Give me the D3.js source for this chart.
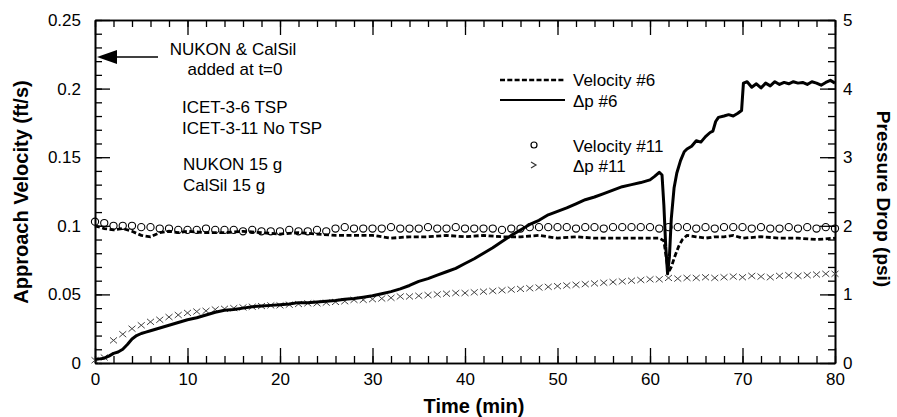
<!DOCTYPE html>
<html>
<head>
<meta charset="utf-8">
<script src="https://cdn.jsdelivr.net/npm/d3@7"></script>
<style>
  body { margin: 0; background: #fff; }
  text { font-family: "Liberation Sans", Arial, sans-serif; fill: #000; }
</style>
</head>
<body>
<script>
var width = 897, height = 417;

// tick labels
var timeTicks = [0, 10, 20, 30, 40, 50, 60, 70, 80];
var velTicks = [0, 0.05, 0.1, 0.15, 0.2, 0.25];
var psiTicks = [0, 1, 2, 3, 4, 5];

// Delta p #6 (psi), solid line
var dp6Time = [0, 0.5, 1, 1.5, 2, 2.5, 3, 3.5, 4, 4.5, 5, 5.5, 6, 7, 8, 9, 10, 11, 12, 13, 14, 15,
  16, 17, 18, 19, 20, 21, 22, 23, 24, 25, 26, 27, 28, 29, 30, 31, 32, 33, 34, 35, 36, 37, 38, 39,
  40, 41, 42, 43, 44, 45, 46, 47, 48, 49, 50, 51, 52, 53, 54, 55, 56, 57, 58, 59, 60, 60.5, 61,
  61.3, 61.5, 61.7, 61.9, 62.1, 62.3, 62.6, 62.9, 63.3, 63.7, 64, 64.5, 65, 65.5, 66, 66.5, 66.8,
  67.1, 67.4, 68, 68.5, 69, 69.5, 69.9, 70.1, 70.5, 71, 71.5, 72, 72.5, 73, 73.5, 74, 74.5, 75,
  75.5, 76, 76.5, 77, 77.5, 78, 78.5, 79, 79.5, 80];
var dp6 = [0.05, 0.06, 0.07, 0.10, 0.14, 0.16, 0.20, 0.27, 0.35, 0.40, 0.43, 0.45, 0.47, 0.51,
  0.55, 0.59, 0.63, 0.66, 0.70, 0.74, 0.77, 0.78, 0.80, 0.82, 0.83, 0.84, 0.85, 0.86, 0.88, 0.88,
  0.89, 0.90, 0.91, 0.93, 0.94, 0.96, 0.98, 1.01, 1.04, 1.08, 1.13, 1.19, 1.23, 1.28, 1.33, 1.38,
  1.45, 1.52, 1.60, 1.68, 1.77, 1.86, 1.94, 2.02, 2.08, 2.16, 2.21, 2.26, 2.32, 2.38, 2.42, 2.47,
  2.52, 2.57, 2.60, 2.63, 2.67, 2.72, 2.78, 2.74, 2.30, 1.70, 1.30, 1.55, 2.10, 2.55, 2.77, 2.95,
  3.08, 3.12, 3.16, 3.24, 3.22, 3.30, 3.36, 3.38, 3.52, 3.58, 3.60, 3.62, 3.60, 3.64, 3.68, 4.08,
  4.10, 4.02, 4.07, 4.01, 4.08, 4.04, 4.10, 4.06, 4.09, 4.07, 4.10, 4.08, 4.09, 4.06, 4.10, 4.08,
  4.05, 4.09, 4.12, 4.08];

// Velocity #6 (ft/s), dashed line
var vel6Time = [0, 1, 2, 3, 4, 5, 6, 7, 8, 9, 10, 12, 14, 16, 18, 20, 22, 24, 26, 28, 30, 32, 34,
  36, 38, 40, 42, 44, 46, 48, 50, 52, 54, 56, 58, 60, 61, 61.5, 61.8, 62, 62.3, 62.7, 63.1, 63.5,
  64, 65, 66, 67, 68, 69, 70, 72, 74, 76, 78, 80];
var vel6 = [0.100, 0.098, 0.097, 0.098, 0.096, 0.093, 0.092, 0.095, 0.096, 0.095, 0.096, 0.095,
  0.095, 0.096, 0.095, 0.094, 0.095, 0.094, 0.093, 0.093, 0.093, 0.091, 0.092, 0.092, 0.093,
  0.092, 0.093, 0.092, 0.092, 0.093, 0.091, 0.092, 0.091, 0.091, 0.091, 0.091, 0.091, 0.089,
  0.075, 0.066, 0.070, 0.078, 0.085, 0.090, 0.093, 0.092, 0.091, 0.092, 0.092, 0.093, 0.091,
  0.092, 0.091, 0.091, 0.090, 0.091];

// Velocity #11 (ft/s), circles, one per minute
var vel11Time = d3.range(0, 81);
var vel11 = [0.103, 0.102, 0.100, 0.100, 0.100, 0.099, 0.099, 0.098, 0.098, 0.097, 0.097, 0.097,
  0.098, 0.097, 0.097, 0.097, 0.096, 0.097, 0.096, 0.096, 0.096, 0.097, 0.096, 0.096, 0.097,
  0.096, 0.098, 0.099, 0.098, 0.098, 0.098, 0.098, 0.099, 0.098, 0.098, 0.098, 0.099, 0.098,
  0.098, 0.099, 0.098, 0.098, 0.098, 0.098, 0.097, 0.098, 0.098, 0.099, 0.099, 0.099, 0.099,
  0.099, 0.098, 0.099, 0.099, 0.098, 0.099, 0.099, 0.099, 0.099, 0.099, 0.098, 0.099, 0.099,
  0.099, 0.098, 0.099, 0.098, 0.099, 0.099, 0.099, 0.098, 0.099, 0.098, 0.098, 0.099, 0.098,
  0.099, 0.098, 0.099, 0.098];

// Delta p #11 (psi), x markers, one per minute
var dp11Time = d3.range(0, 81);
var dp11 = [0.04, 0.08, 0.33, 0.42, 0.50, 0.55, 0.60, 0.63, 0.67, 0.70, 0.73, 0.75, 0.76, 0.78,
  0.79, 0.80, 0.81, 0.82, 0.83, 0.84, 0.84, 0.85, 0.86, 0.87, 0.87, 0.88, 0.89, 0.90, 0.92, 0.92,
  0.93, 0.94, 0.95, 0.97, 0.97, 0.98, 0.99, 1.00, 1.01, 1.02, 1.02, 1.03, 1.04, 1.05, 1.06, 1.07,
  1.08, 1.09, 1.10, 1.11, 1.12, 1.13, 1.14, 1.15, 1.16, 1.17, 1.18, 1.19, 1.20, 1.21, 1.22, 1.22,
  1.24, 1.23, 1.24, 1.24, 1.25, 1.24, 1.25, 1.26, 1.25, 1.27, 1.26, 1.25, 1.27, 1.28, 1.27, 1.28,
  1.29, 1.30, 1.30];

var plotLeft = 95, plotRight = 835, plotTop = 20, plotBottom = 363;

var svg = d3.select("body").append("svg")
    .attr("width", width)
    .attr("height", height);

var x = d3.scaleLinear().domain([0, 80]).range([plotLeft, plotRight]);
var yL = d3.scaleLinear().domain([0, 0.25]).range([plotBottom, plotTop]);
var yR = d3.scaleLinear().domain([0, 5]).range([plotBottom, plotTop]);

// axes: major ticks with labels + minor ticks, all pointing inwards
function styleAxis(g) {
  g.selectAll("path.domain").attr("stroke", "#000").attr("stroke-width", 1.6);
  g.selectAll(".tick line").attr("stroke", "#000").attr("stroke-width", 1.3);
  g.selectAll(".tick text").style("font-size", "17px").attr("fill", "#000");
}

svg.append("g").attr("transform", "translate(0," + plotBottom + ")")
  .call(d3.axisBottom(x).tickValues(timeTicks).tickSize(-15).tickSizeOuter(0).tickPadding(10).tickFormat(d => d))
  .call(styleAxis);
svg.append("g").attr("transform", "translate(0," + plotBottom + ")")
  .call(d3.axisBottom(x).tickValues(d3.range(0, 81, 2)).tickSize(-7).tickSizeOuter(0).tickFormat(""))
  .call(styleAxis);
svg.append("g").attr("transform", "translate(0," + plotTop + ")")
  .call(d3.axisTop(x).tickValues(timeTicks).tickSize(-15).tickSizeOuter(0).tickFormat(""))
  .call(styleAxis);
svg.append("g").attr("transform", "translate(0," + plotTop + ")")
  .call(d3.axisTop(x).tickValues(d3.range(0, 81, 2)).tickSize(-7).tickSizeOuter(0).tickFormat(""))
  .call(styleAxis);

svg.append("g").attr("transform", "translate(" + plotLeft + ",0)")
  .call(d3.axisLeft(yL).tickValues(velTicks).tickSize(-15).tickSizeOuter(0).tickPadding(14).tickFormat(d => d))
  .call(styleAxis);
svg.append("g").attr("transform", "translate(" + plotLeft + ",0)")
  .call(d3.axisLeft(yL).tickValues(d3.range(0, 26).map(d => d / 100)).tickSize(-7).tickSizeOuter(0).tickFormat(""))
  .call(styleAxis);

svg.append("g").attr("transform", "translate(" + plotRight + ",0)")
  .call(d3.axisRight(yR).tickValues(psiTicks).tickSize(-15).tickSizeOuter(0).tickPadding(8).tickFormat(d => d))
  .call(styleAxis);
svg.append("g").attr("transform", "translate(" + plotRight + ",0)")
  .call(d3.axisRight(yR).tickValues(d3.range(0, 26).map(d => d / 5)).tickSize(-7).tickSizeOuter(0).tickFormat(""))
  .call(styleAxis);

// axis titles
svg.append("text")
  .attr("transform", "translate(28,192) rotate(-90)")
  .attr("text-anchor", "middle")
  .style("font-size", "20px").style("font-weight", "bold")
  .text("Approach Velocity (ft/s)");
svg.append("text")
  .attr("transform", "translate(877,199) rotate(90)")
  .attr("text-anchor", "middle")
  .style("font-size", "19px").style("font-weight", "bold")
  .text("Pressure Drop (psi)");
svg.append("text")
  .attr("x", 474).attr("y", 413)
  .attr("text-anchor", "middle")
  .style("font-size", "20px").style("font-weight", "bold")
  .text("Time (min)");

// data
var plot = svg.append("g");

var lineL = d3.line().x(d => x(d[0])).y(d => yL(d[1]));
var lineR = d3.line().x(d => x(d[0])).y(d => yR(d[1]));

plot.append("path")
  .datum(vel6Time.map((t, i) => [t, vel6[i]]))
  .attr("d", lineL)
  .attr("fill", "none").attr("stroke", "#000")
  .attr("stroke-width", 2.8).attr("stroke-dasharray", "5,2.5");

plot.selectAll("circle.v11")
  .data(vel11Time.map((t, i) => [t, vel11[i]]))
  .enter().append("circle")
  .attr("class", "v11")
  .attr("cx", d => x(d[0])).attr("cy", d => yL(d[1]))
  .attr("r", 3.6)
  .attr("fill", "none").attr("stroke", "#000").attr("stroke-width", 1.1);

plot.selectAll("path.p11")
  .data(dp11Time.map((t, i) => [t, dp11[i]]))
  .enter().append("path")
  .attr("class", "p11")
  .attr("transform", d => "translate(" + x(d[0]) + "," + yR(d[1]) + ")")
  .attr("d", "M-3.5,-3L3.5,3M-3.5,3L3.5,-3")
  .attr("fill", "none").attr("stroke", "#444").attr("stroke-width", 1);

plot.append("path")
  .datum(dp6Time.map((t, i) => [t, dp6[i]]))
  .attr("d", lineR)
  .attr("fill", "none").attr("stroke", "#000")
  .attr("stroke-width", 3).attr("stroke-linejoin", "round");

// annotation with arrow
svg.append("line")
  .attr("x1", 158).attr("y1", 57).attr("x2", 112).attr("y2", 57)
  .attr("stroke", "#000").attr("stroke-width", 1.6);
svg.append("path")
  .attr("d", "M97,57L117,50L117,64Z")
  .attr("fill", "#000");

var note = svg.append("g").style("font-size", "17px");
note.append("text").attr("x", 233).attr("y", 55).attr("text-anchor", "middle").text("NUKON & CalSil");
note.append("text").attr("x", 235).attr("y", 75).attr("text-anchor", "middle").text("added at t=0");
note.append("text").attr("x", 182).attr("y", 113).text("ICET-3-6 TSP");
note.append("text").attr("x", 182).attr("y", 134).text("ICET-3-11 No TSP");
note.append("text").attr("x", 183).attr("y", 170).text("NUKON 15 g");
note.append("text").attr("x", 183).attr("y", 191).text("CalSil 15 g");

// legend
var leg = svg.append("g").style("font-size", "17px");
leg.append("line").attr("x1", 500).attr("x2", 565).attr("y1", 80).attr("y2", 80)
  .attr("stroke", "#000").attr("stroke-width", 2.4).attr("stroke-dasharray", "5,2.3");
leg.append("text").attr("x", 573).attr("y", 86).text("Velocity #6");
leg.append("line").attr("x1", 500).attr("x2", 565).attr("y1", 100).attr("y2", 100)
  .attr("stroke", "#000").attr("stroke-width", 1.8);
leg.append("text").attr("x", 573).attr("y", 107).text("\u0394p #6");
leg.append("circle").attr("cx", 534).attr("cy", 145).attr("r", 3)
  .attr("fill", "none").attr("stroke", "#000").attr("stroke-width", 1.2);
leg.append("text").attr("x", 573).attr("y", 152).text("Velocity #11");
leg.append("path").attr("transform", "translate(534,165)")
  .attr("d", "M-3,-3L2,0L-3,3")
  .attr("fill", "none").attr("stroke", "#333").attr("stroke-width", 1.2);
leg.append("text").attr("x", 573).attr("y", 172).text("\u0394p #11");
</script>
</body>
</html>
